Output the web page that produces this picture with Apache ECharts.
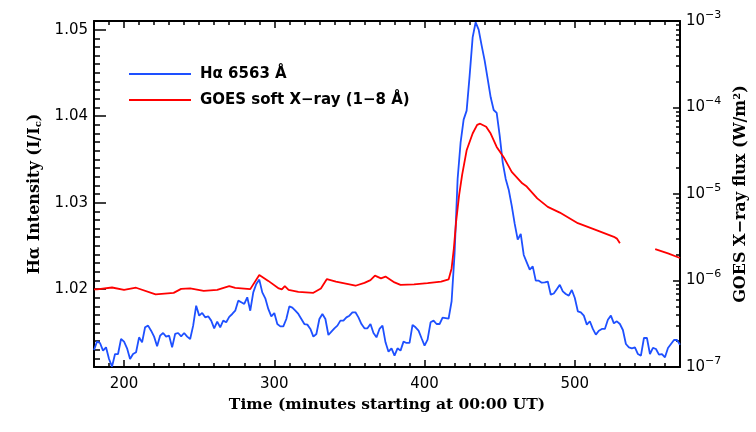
<!DOCTYPE html>
<html>
<head>
<meta charset="utf-8">
<script src="https://cdn.jsdelivr.net/npm/echarts@6.0.0/dist/echarts.min.js"></script>
<style>
html, body { margin: 0; padding: 0; background: #fff; }
#chart { width: 756px; height: 432px; }
</style>
</head>
<body>
<div id="chart"></div>
<script>
// H-alpha light curve, one sample every 2 minutes from 180 to 570
const haStart = 180;
const haStep = 2;
const haIntensity = [
  1.01297, 1.01393, 1.01378, 1.01289, 1.01328, 1.01193, 1.01104, 1.01250, 1.01250, 1.01424,
  1.01393, 1.01316, 1.01193, 1.01250, 1.01270, 1.01443, 1.01385, 1.01559, 1.01578, 1.01520,
  1.01451, 1.01339, 1.01462, 1.01493, 1.01451, 1.01462, 1.01327, 1.01482, 1.01493, 1.01455,
  1.01493, 1.01451, 1.01424, 1.01578, 1.01809, 1.01694, 1.01725, 1.01674, 1.01686, 1.01636,
  1.01547, 1.01624, 1.01559, 1.01636, 1.01617, 1.01680, 1.01713, 1.01751, 1.01867, 1.01848,
  1.01829, 1.01906, 1.01751, 1.01963, 1.02060, 1.02110, 1.01963, 1.01894, 1.01771, 1.01686,
  1.01724, 1.01597, 1.01570, 1.01570, 1.01655, 1.01801, 1.01786, 1.01751, 1.01713, 1.01655,
  1.01597, 1.01590, 1.01540, 1.01451, 1.01482, 1.01655, 1.01713, 1.01655, 1.01470, 1.01509,
  1.01547, 1.01578, 1.01636, 1.01636, 1.01674, 1.01693, 1.01732, 1.01732, 1.01674, 1.01597,
  1.01547, 1.01547, 1.01597, 1.01493, 1.01443, 1.01540, 1.01578, 1.01385, 1.01277, 1.01316,
  1.01231, 1.01316, 1.01289, 1.01393, 1.01378, 1.01378, 1.01586, 1.01559, 1.01520, 1.01432,
  1.01347, 1.01416, 1.01617, 1.01636, 1.01597, 1.01597, 1.01670, 1.01665, 1.01660, 1.01860,
  1.02420, 1.03274, 1.03698, 1.03960, 1.04064, 1.04468, 1.04911, 1.05085, 1.05000, 1.04815,
  1.04642, 1.04430, 1.04218, 1.04071, 1.04037, 1.03774, 1.03466, 1.03274, 1.03150, 1.02965,
  1.02754, 1.02572, 1.02638, 1.02395, 1.02310, 1.02225, 1.02264, 1.02098, 1.02098, 1.02075,
  1.02078, 1.02088, 1.01935, 1.01950, 1.02000, 1.02050, 1.01975, 1.01944, 1.01925, 1.01990,
  1.01898, 1.01744, 1.01732, 1.01694, 1.01590, 1.01629, 1.01540, 1.01474, 1.01520, 1.01540,
  1.01540, 1.01647, 1.01694, 1.01605, 1.01628, 1.01597, 1.01528, 1.01366, 1.01328, 1.01316,
  1.01328, 1.01250, 1.01231, 1.01435, 1.01435, 1.01250, 1.01320, 1.01308, 1.01243, 1.01250,
  1.01212, 1.01320, 1.01366, 1.01412, 1.01412, 1.01358
];

// GOES 1-8 A flux (W/m^2); null = data gap
const goesMinutes = [
  180, 182, 192, 200, 208, 221, 233, 238, 244, 253,
  262, 270, 274, 284, 290, 296, 303, 305, 307, 309.5,
  316, 326, 331, 335, 341, 350, 354, 360, 364, 367,
  371, 374, 380, 384, 393, 402, 411, 416, 418, 419.5,
  421, 423, 425, 428, 432, 435, 437, 441, 444, 448,
  453, 458, 465, 468, 475, 482, 490, 502, 513, 526,
  528, 530, 540, 553.5, 562, 570
];
const goesFlux = [
  7.9e-7, 7.9e-7, 8.3e-7, 7.8e-7, 8.25e-7, 6.9e-7, 7.2e-7, 8.0e-7, 8.1e-7, 7.6e-7,
  7.8e-7, 8.6e-7, 8.2e-7, 7.95e-7, 1.16e-6, 9.9e-7, 8.1e-7, 7.9e-7, 8.6e-7, 7.8e-7,
  7.4e-7, 7.2e-7, 8.1e-7, 1.04e-6, 9.7e-7, 9.0e-7, 8.7e-7, 9.4e-7, 1.01e-6, 1.14e-6,
  1.06e-6, 1.11e-6, 9.5e-7, 8.9e-7, 9.0e-7, 9.3e-7, 9.7e-7, 1.03e-6, 1.38e-6, 2.36e-6,
  4.8e-6, 9.7e-6, 1.66e-5, 3.2e-5, 5.0e-5, 6.3e-5, 6.5e-5, 6.0e-5, 5.0e-5, 3.5e-5,
  2.6e-5, 1.8e-5, 1.33e-5, 1.22e-5, 8.9e-6, 7.1e-6, 6.1e-6, 4.6e-6, 3.9e-6, 3.2e-6,
  3.05e-6, 2.69e-6, null, 2.31e-6, 2.06e-6, 1.82e-6
];

const ink = '#000';
const blue = '#1e50ff';
const red = '#ff0000';
const sans = '"DejaVu Sans", sans-serif';
const serif = '"DejaVu Serif", serif';

const haData = haIntensity.map((v, i) => [haStart + i * haStep, v]);
const goesData = goesMinutes.map((t, i) => [t, goesFlux[i] === null ? '-' : goesFlux[i]]);

// y axis indexes of two hidden helpers whose zero sits on the bottom / top edge;
// the x axes sit "on zero" of them (ticks only render that way here)
const BOTTOM_ZERO = 12;
const TOP_ZERO = 13;

const tickLine = { color: ink, width: 1.5 };
const boxLine = { color: ink, width: 2 };

function xFrame(pos, zeroIdx, extra) {
  return Object.assign({
    type: 'value', position: pos, min: 180, max: 570,
    axisLine: { show: true, onZero: true, onZeroAxisIndex: zeroIdx, lineStyle: boxLine },
    axisTick: { show: true, inside: true, length: 7, lineStyle: tickLine },
    axisLabel: { show: false },
    splitLine: { show: false }
  }, extra || {});
}
function xMinor(pos, zeroIdx) {
  return {
    type: 'value', position: pos, min: 180, max: 570, interval: 10,
    axisLine: { show: false, onZero: true, onZeroAxisIndex: zeroIdx },
    axisTick: { show: true, inside: true, length: 4, lineStyle: tickLine },
    axisLabel: { show: false },
    splitLine: { show: false }
  };
}
function yTicks(extra, len) {
  return Object.assign({
    type: 'value',
    axisLine: { show: false },
    axisTick: { show: true, inside: true, length: len, lineStyle: tickLine },
    axisLabel: { show: false },
    splitLine: { show: false }
  }, extra);
}

const xAxes = [
  xFrame('bottom', BOTTOM_ZERO, {
    axisLabel: { show: true, color: ink, fontFamily: sans, fontSize: 15, margin: 10, showMinLabel: false, showMaxLabel: false },
    name: 'Time (minutes starting at 00:00 UT)', nameLocation: 'middle', nameGap: 30,
    nameTextStyle: { fontFamily: serif, fontWeight: 'bold', fontSize: 15.5, color: ink }
  }),
  xMinor('bottom', BOTTOM_ZERO),
  xFrame('top', TOP_ZERO),
  xMinor('top', TOP_ZERO)
];

const yAxes = [
  {
    type: 'value', position: 'left', min: 1.011, max: 1.051,
    axisLine: { show: true, lineStyle: boxLine },
    axisTick: { show: true, inside: true, length: 12, lineStyle: tickLine },
    axisLabel: {
      show: true, color: ink, fontFamily: sans, fontSize: 15, margin: 6,
      showMinLabel: false, showMaxLabel: false, formatter: v => v.toFixed(2)
    },
    splitLine: { show: false },
    name: 'Hα Intensity (I/I{sub|c})', nameLocation: 'middle', nameRotate: 90, nameGap: 48,
    nameTextStyle: {
      fontFamily: serif, fontWeight: 'bold', fontSize: 16, color: ink,
      rich: { sub: { fontFamily: serif, fontWeight: 'bold', fontSize: 10, color: ink, padding: [8, 0, 0, 0] } }
    }
  },
  yTicks({ position: 'left', min: 1.011, max: 1.051, interval: 0.001 }, 6),
  { type: 'log', logBase: 10, position: 'right', min: 1e-7, max: 1e-3, show: false },
  {
    type: 'value', position: 'right', min: -7, max: -3,
    axisLine: { show: true, lineStyle: boxLine },
    axisTick: { show: true, inside: true, length: 7, lineStyle: tickLine },
    axisLabel: {
      show: true, color: ink, fontFamily: sans, fontSize: 15, margin: 6,
      formatter: v => '10{sup|' + String(v).replace('-', '−') + '}',
      rich: { sup: { fontFamily: sans, fontSize: 11, color: ink, padding: [0, 0, 12, 0] } }
    },
    splitLine: { show: false },
    name: 'GOES X−ray flux (W/m{sup|2})', nameLocation: 'middle', nameRotate: 90, nameGap: 43,
    nameTextStyle: {
      fontFamily: serif, fontWeight: 'bold', fontSize: 16, color: ink,
      rich: { sup: { fontFamily: serif, fontWeight: 'bold', fontSize: 10, color: ink, padding: [0, 0, 8, 0] } }
    }
  }
];
// log minor ticks: one shifted overlay per multiplier 2..9, each ticking once a decade
for (let k = 2; k <= 9; k++) {
  const s = Math.log10(k);
  yAxes.push(yTicks({ position: 'right', min: -7 - s, max: -3 - s }, 4));
}
// helpers (indexes 12 and 13)
yAxes.push({ type: 'value', min: 0, max: 1, show: false });
yAxes.push({ type: 'value', min: -1, max: 0, show: false });

const chart = echarts.init(document.getElementById('chart'));
chart.setOption({
  animation: false,
  backgroundColor: '#fff',
  grid: { left: 94, right: 76, top: 21, bottom: 65, outerBoundsMode: 'none' },
  legend: {
    left: 124, top: 60, orient: 'vertical', icon: 'rect',
    itemWidth: 62, itemHeight: 2, itemGap: 8,
    textStyle: { fontFamily: sans, fontWeight: 'bold', fontSize: 15, color: ink, lineHeight: 18, padding: [0, 0, 0, 4] },
    data: ['Hα 6563 Å', 'GOES soft X−ray (1−8 Å)']
  },
  xAxis: xAxes,
  yAxis: yAxes,
  series: [
    {
      name: 'Hα 6563 Å', type: 'line', xAxisIndex: 0, yAxisIndex: 0,
      data: haData, symbol: 'none', silent: true,
      lineStyle: { color: blue, width: 1.8 }, itemStyle: { color: blue }
    },
    {
      name: 'GOES soft X−ray (1−8 Å)', type: 'line', xAxisIndex: 0, yAxisIndex: 2,
      data: goesData, symbol: 'none', silent: true, connectNulls: false,
      lineStyle: { color: red, width: 1.8 }, itemStyle: { color: red }
    }
  ]
});
</script>
</body>
</html>
